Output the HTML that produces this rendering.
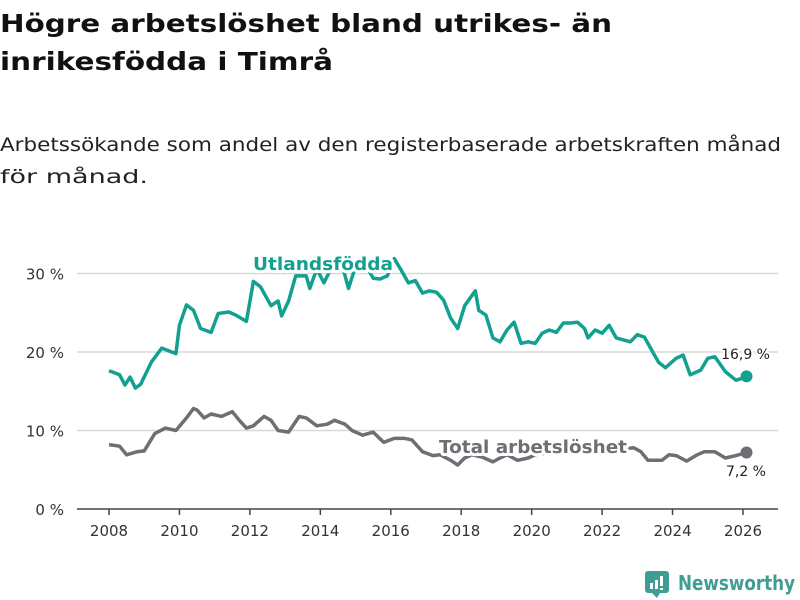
<!DOCTYPE html>
<html><head><meta charset="utf-8"><style>
body{margin:0;background:#fff;}
svg{display:block;font-family:"DejaVu Sans","Liberation Sans",sans-serif;}
</style></head><body>
<svg id="chart" width="800" height="600" viewBox="0 0 800 600">
<text x="0" y="32" font-size="25" font-weight="bold" fill="#111" textLength="612" lengthAdjust="spacingAndGlyphs">Högre arbetslöshet bland utrikes- än</text>
<text x="0" y="70" font-size="25" font-weight="bold" fill="#111" textLength="333" lengthAdjust="spacingAndGlyphs">inrikesfödda i Timrå</text>
<text x="0" y="151" font-size="19" fill="#222" textLength="781" lengthAdjust="spacingAndGlyphs">Arbetssökande som andel av den registerbaserade arbetskraften månad</text>
<text x="0" y="183" font-size="19" fill="#222" textLength="148" lengthAdjust="spacingAndGlyphs">för månad.</text>
<g id="grid"></g><g id="xaxis"></g><g id="series"></g><g id="labels"></g>
<g>
<rect x="645" y="571" width="24" height="22" rx="3" fill="#3f9e94"/>
<path d="M652 593 L657 598 L660 593Z" fill="#3f9e94"/>
<rect x="650" y="583" width="3" height="6" fill="#fff"/><rect x="655" y="580" width="3" height="9" fill="#fff"/><rect x="660" y="576" width="3" height="10" fill="#fff"/><rect x="660" y="588" width="3" height="2" fill="#fff"/>
<text x="678" y="590" font-size="20" fill="#3f9e94" font-weight="bold" textLength="117" lengthAdjust="spacingAndGlyphs">Newsworthy</text>
</g>
</svg>
<script>
const years=[2008,2008.3,2008.45,2008.6,2008.75,2008.9,2009.2,2009.5,2009.9,2010.0,2010.2,2010.4,2010.6,2010.9,2011.1,2011.4,2011.6,2011.9,2012.1,2012.3,2012.6,2012.8,2012.9,2013.1,2013.3,2013.6,2013.7,2013.9,2014.1,2014.3,2014.6,2014.8,2015.0,2015.3,2015.5,2015.7,2015.9,2016.1,2016.3,2016.5,2016.7,2016.9,2017.1,2017.3,2017.5,2017.7,2017.9,2018.1,2018.4,2018.5,2018.7,2018.9,2019.1,2019.3,2019.5,2019.7,2019.9,2020.1,2020.3,2020.5,2020.7,2020.9,2021.1,2021.3,2021.5,2021.6,2021.8,2022.0,2022.2,2022.4,2022.8,2023.0,2023.2,2023.4,2023.6,2023.8,2024.1,2024.3,2024.5,2024.8,2025.0,2025.2,2025.5,2025.8,2026.0,2026.1];
const foreign=[17.6,17.1,15.8,16.8,15.4,15.9,18.7,20.5,19.8,23.4,26,25.3,23,22.5,24.9,25.1,24.7,23.9,29,28.3,25.9,26.5,24.6,26.5,29.7,29.7,28.1,30.6,28.8,30.6,31.4,28.1,30.9,31,29.4,29.3,29.7,31.9,30.4,28.8,29.1,27.5,27.8,27.6,26.6,24.3,23,25.9,27.8,25.3,24.7,21.8,21.3,22.8,23.8,21.1,21.3,21.1,22.4,22.8,22.5,23.7,23.7,23.8,23,21.8,22.8,22.4,23.4,21.8,21.3,22.2,21.9,20.3,18.7,18,19.2,19.6,17.1,17.7,19.2,19.4,17.5,16.4,16.7,16.9];
const totalYears=[2008,2008.3,2008.5,2008.8,2009.0,2009.3,2009.6,2009.9,2010.2,2010.4,2010.5,2010.7,2010.9,2011.2,2011.5,2011.7,2011.9,2012.1,2012.4,2012.6,2012.8,2013.1,2013.4,2013.6,2013.9,2014.2,2014.4,2014.7,2014.9,2015.2,2015.5,2015.8,2016.1,2016.4,2016.6,2016.9,2017.2,2017.4,2017.7,2017.9,2018.1,2018.3,2018.6,2018.9,2019.1,2019.3,2019.6,2019.9,2020.1,2020.5,2020.9,2021.3,2021.7,2022.1,2022.5,2022.9,2023.1,2023.3,2023.7,2023.9,2024.1,2024.4,2024.7,2024.9,2025.2,2025.5,2025.8,2026.1];
const total=[8.2,8,6.9,7.3,7.4,9.6,10.3,10,11.6,12.8,12.6,11.6,12.1,11.8,12.4,11.3,10.3,10.6,11.8,11.3,10,9.8,11.8,11.6,10.6,10.8,11.3,10.8,10,9.4,9.8,8.5,9,9,8.8,7.3,6.8,6.9,6.2,5.6,6.5,6.9,6.6,6,6.5,6.9,6.2,6.5,6.9,7.2,7.6,7.4,7.8,7.9,7.6,7.8,7.3,6.2,6.2,6.9,6.8,6.1,6.9,7.3,7.3,6.5,6.8,7.2];
const yTicks=[0,10,20,30];
const xTicks=[2008,2010,2012,2014,2016,2018,2020,2022,2024,2026];
const X=v=>109+(v-2008)*(743-109)/18;
const Y=v=>509-v*7.85;
const NS='http://www.w3.org/2000/svg';
function mk(tag,attrs,parent){const e=document.createElementNS(NS,tag);for(const k in attrs)e.setAttribute(k,attrs[k]);document.getElementById(parent).appendChild(e);return e;}
yTicks.forEach(t=>{
 const l=mk('line',{x1:77,x2:778,y1:Y(t),y2:Y(t),stroke:t===0?'#444':'#d8d8d8','stroke-width':1.5},'grid');
 
 
 const tx=mk('text',{x:64,y:Y(t)+6,'font-size':15,fill:'#333','text-anchor':'end'},'grid');
 tx.textContent=t+' %';
 
 
});
xTicks.forEach(t=>{
 const l=mk('line',{x1:X(t),x2:X(t),y1:509,y2:515,stroke:'#444','stroke-width':1.5},'xaxis');
 
 
 const tx=mk('text',{x:X(t),y:536,'font-size':15,fill:'#333','text-anchor':'middle'},'xaxis');
 tx.textContent=t;
 
 
});
function line(xs,vs,color,name){
 const d=xs.map((x,i)=>(i?'L':'M')+X(x).toFixed(1)+' '+Y(vs[i]).toFixed(1)).join(' ');
 const p=mk('path',{d:d,fill:'none',stroke:color,'stroke-width':3.5,'stroke-linejoin':'round'},'series');
 
 
 const c=mk('circle',{cx:X(xs[xs.length-1]),cy:Y(vs[vs.length-1]),r:6,fill:color},'series');
 
 
}
line(years,foreign,'#12a091','line-utlandsfodda');
line(totalYears,total,'#6f6e74','line-total');
function label(x,y,txt,color,size,bold,anchor,name,len){
 const a={x:x,y:y,'font-size':size,fill:color,'font-weight':bold?'bold':'normal','text-anchor':anchor,stroke:'#fff','stroke-width':bold?6:4,'paint-order':'stroke','stroke-linejoin':'round'};
 if(len){a.textLength=len;a.lengthAdjust='spacingAndGlyphs';}
 const t=mk('text',a,'labels');
 t.textContent=txt;
 
 
}
label(253,270,'Utlandsfödda','#12a091',18,true,'start','series-label-utlandsfodda',140);
label(439,453,'Total arbetslöshet','#6f6e74',18,true,'start','series-label-total',188);
label(770,359,'16,9 %','#222',14,false,'end','end-value-utlandsfodda');
label(766,476,'7,2 %','#222',14,false,'end','end-value-total');
</script>
</body></html>
